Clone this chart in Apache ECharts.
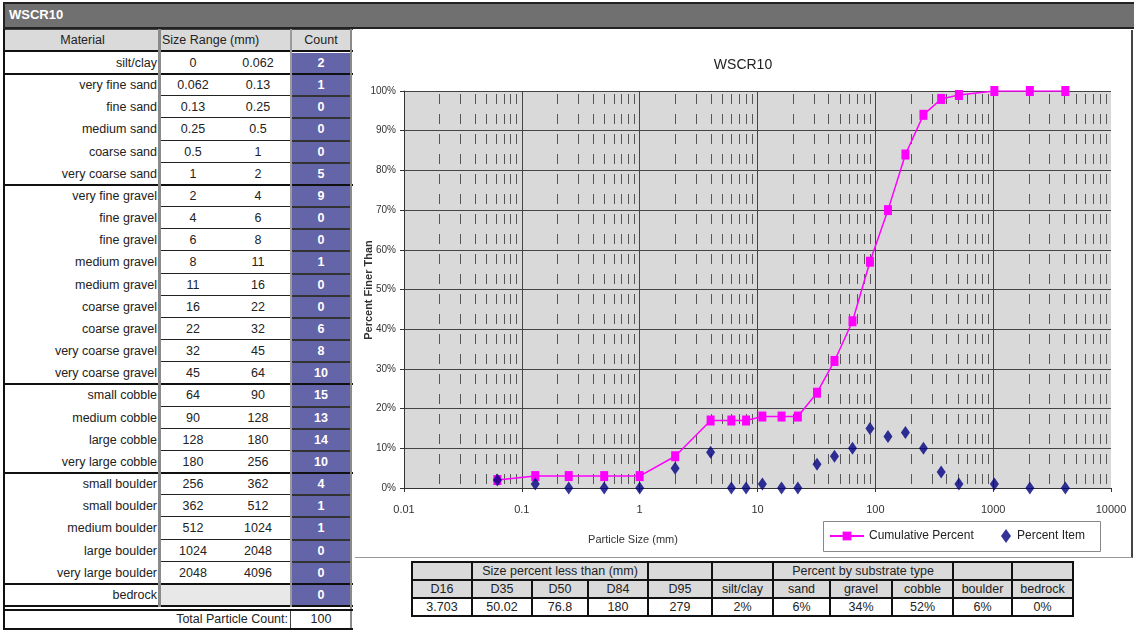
<!doctype html>
<html>
<head>
<meta charset="utf-8">
<title>WSCR10</title>
<script src="https://cdn.jsdelivr.net/npm/echarts@6/dist/echarts.min.js"></script>
<style>
  body { margin: 0; background: #fff; font-family: "Liberation Sans Narrow", "Arial Narrow", "Liberation Sans", Arial, sans-serif; }
  #page { position: relative; width: 1134px; height: 630px; overflow: hidden; background: #fff; }
  .c { position: absolute; box-sizing: border-box; font-size: 12.5px; line-height: 22px; color: #222; white-space: nowrap; overflow: hidden; }
  .ln { position: absolute; }
  #titlebar { position: absolute; left: 3px; top: 2px; width: 1131px; height: 27px; box-sizing: border-box;
    background: #707070; border-top: 2px solid #222; border-bottom: 2px solid #222; border-left: 2px solid #222;
    color: #fff; font: bold 13px "Liberation Sans", Arial, sans-serif; line-height: 22px; padding-left: 4px; }
  #chartbox { position: absolute; left: 355px; top: 30px; width: 778px; height: 528px; box-sizing: border-box;
    border-right: 2px solid #444; border-bottom: 1px solid #999; background: #fff; }
  #chart { width: 776px; height: 527px; }
  #btable { position: absolute; left: 411px; top: 561px; border-collapse: collapse; table-layout: fixed; }
  #btable td { border: 2px solid #111; height: 16px; padding: 0; text-align: center; font-size: 12.5px; color: #222; line-height: 16px; white-space: nowrap; }
  #btable tr.h td { background: #dadada; }
</style>
</head>
<body>
<div id="page">
  <div id="titlebar">WSCR10</div>
  <div id="chartbox"><div id="chart"></div></div>
  <table id="btable"></table>
</div>
<script type="text/javascript">
  // ---- data read from the sheet ----
  var materials = ['silt/clay', 'very fine sand', 'fine sand', 'medium sand', 'coarse sand', 'very coarse sand',
    'very fine gravel', 'fine gravel', 'fine gravel', 'medium gravel', 'medium gravel', 'coarse gravel', 'coarse gravel',
    'very coarse gravel', 'very coarse gravel', 'small cobble', 'medium cobble', 'large cobble', 'very large cobble',
    'small boulder', 'small boulder', 'medium boulder', 'large boulder', 'very large boulder', 'bedrock'];
  var sizeLow = ['0', '0.062', '0.13', '0.25', '0.5', '1', '2', '4', '6', '8', '11', '16', '22', '32', '45', '64', '90', '128', '180', '256', '362', '512', '1024', '2048', ''];
  var sizeHigh = ['0.062', '0.13', '0.25', '0.5', '1', '2', '4', '6', '8', '11', '16', '22', '32', '45', '64', '90', '128', '180', '256', '362', '512', '1024', '2048', '4096', ''];
  var counts = [2, 1, 0, 0, 0, 5, 9, 0, 0, 1, 0, 0, 6, 8, 10, 15, 13, 14, 10, 4, 1, 1, 0, 0, 0];
  var groupEnds = [0, 5, 14, 18, 23, 24]; // last row index of each substrate group
  var totalCount = 100;

  // chart points (upper size of each class)
  var particleSize = [0.062, 0.13, 0.25, 0.5, 1, 2, 4, 6, 8, 11, 16, 22, 32, 45, 64, 90, 128, 180, 256, 362, 512, 1024, 2048, 4096];
  var cumulativePercent = [2, 3, 3, 3, 3, 8, 17, 17, 17, 18, 18, 18, 24, 32, 42, 57, 70, 84, 94, 98, 99, 100, 100, 100];
  var percentItem = [2, 1, 0, 0, 0, 5, 9, 0, 0, 1, 0, 0, 6, 8, 10, 15, 13, 14, 10, 4, 1, 1, 0, 0];

  var dLabels = ['D16', 'D35', 'D50', 'D84', 'D95'];
  var dValues = ['3.703', '50.02', '76.8', '180', '279'];
  var substrateLabels = ['silt/clay', 'sand', 'gravel', 'cobble', 'boulder', 'bedrock'];
  var substratePercent = ['2%', '6%', '34%', '52%', '6%', '0%'];

  // ---- left table ----
  var page = document.getElementById('page');
  function cell(l, t, w, h, txt, css) {
    var d = document.createElement('div');
    d.className = 'c';
    d.style.left = l + 'px'; d.style.top = t + 'px'; d.style.width = w + 'px'; d.style.height = h + 'px';
    d.style.lineHeight = h + 'px';
    if (css) d.style.cssText += css;
    d.textContent = txt;
    page.appendChild(d);
    return d;
  }
  function line(l, t, w, h, color) {
    var d = document.createElement('div');
    d.className = 'ln';
    d.style.left = l + 'px'; d.style.top = t + 'px'; d.style.width = w + 'px'; d.style.height = h + 'px';
    d.style.background = color;
    page.appendChild(d);
  }

  // header
  cell(5, 30, 155, 21, 'Material', 'background:#dadada;text-align:center;');
  cell(160, 30, 131, 21, 'Size Range (mm)', 'background:#dadada;text-align:left;padding-left:2px;');
  cell(291, 30, 60, 21, 'Count', 'background:#dadada;text-align:center;');
  line(3, 29, 350, 1, '#444');
  line(3, 50, 350, 2, '#111');

  var rowTop = 52, rowH = 22.16;
  for (var i = 0; i < materials.length; i++) {
    var t = Math.round(rowTop + i * rowH);
    var h = Math.round(rowTop + (i + 1) * rowH) - t;
    cell(5, t, 153, h, materials[i], 'text-align:right;padding-right:1px;');
    if (i === materials.length - 1) {
      cell(161, t, 130, h, '', 'background:#e8e8e8;');
    } else {
      cell(161, t, 64, h, sizeLow[i], 'text-align:center;');
      cell(225, t, 66, h, sizeHigh[i], 'text-align:center;');
    }
    cell(292, t + 1, 58, h - 2, String(counts[i]), 'background:#6464a8;color:#fff;font-weight:bold;text-align:center;');
    line(161, t + h - 1, 130, 1, '#222');
    line(292, t + h - 1, 58, 2, '#333');
  }
  groupEnds.forEach(function(g) {
    var y = Math.round(rowTop + (g + 1) * rowH);
    line(3, y - 1, 350, 2, '#111');
  });
  line(3, 29, 2, 600, '#111');
  line(158, 29, 3, 578, '#8a8a8a');
  line(290, 29, 2, 578, '#9a9a9a');
  line(350, 29, 2, 600, '#8a8a8a');
  // total row
  line(3, 609, 350, 2, '#111');
  cell(5, 611, 284, 17, 'Total Particle Count:', 'text-align:right;padding-right:1px;');
  line(290, 611, 1, 17, '#444');
  cell(292, 611, 58, 17, String(totalCount), 'text-align:center;');
  line(3, 628, 350, 2, '#111');

  // ---- bottom table ----
  var bw = [60, 60, 56, 60, 64, 61, 57, 62, 61, 59, 61];
  var bt = document.getElementById('btable');
  var cg = '<colgroup>' + bw.map(function(w) { return '<col style="width:' + w + 'px">'; }).join('') + '</colgroup>';
  var r1 = '<tr class="h"><td></td><td colspan="3">Size percent less than (mm)</td><td></td><td></td>' +
    '<td colspan="3">Percent by substrate type</td><td></td><td></td></tr>';
  var r2 = '<tr class="h">' + dLabels.concat(substrateLabels).map(function(s) { return '<td>' + s + '</td>'; }).join('') + '</tr>';
  var r3 = '<tr>' + dValues.concat(substratePercent).map(function(s) { return '<td>' + s + '</td>'; }).join('') + '</tr>';
  bt.innerHTML = cg + r1 + r2 + r3;

  // ---- chart ----
  // minor grid positions 2..9 in every decade (log grid decoration)
  var minorGrid = [];
  [0.01, 0.1, 1, 10, 100, 1000].forEach(function(d) {
    for (var k = 2; k <= 9; k++) minorGrid.push([+(d * k).toPrecision(3), 0]);
  });

  var font = '"Liberation Sans", Arial, sans-serif';
  var legendText = { fontSize: 12, color: '#222', fontFamily: font };
  var option = {
    animation: false,
    textStyle: { fontFamily: font },
    title: [{
      text: 'WSCR10',
      left: 'center',
      top: 23,
      textStyle: { fontSize: 14, fontWeight: 'normal', color: '#222', fontFamily: font }
    }, {
      text: 'Particle Size (mm)',
      left: 273,
      top: 499,
      textAlign: 'center',
      textStyle: { fontSize: 11, fontWeight: 'normal', color: '#333', fontFamily: font }
    }],
    graphic: [{
      type: 'rect',
      left: 468,
      top: 491,
      z: 5,
      shape: { width: 277, height: 30 },
      style: { fill: '#fff', stroke: '#888', lineWidth: 1 }
    }, {
      // y axis title
      type: 'text',
      x: 14,
      y: 260,
      rotation: Math.PI / 2,
      z: 5,
      style: {
        text: 'Percent Finer Than',
        fill: '#333',
        font: 'bold 11px "Liberation Sans", Arial, sans-serif',
        align: 'center',
        verticalAlign: 'middle'
      }
    }],
    legend: [{
      data: ['Cumulative Percent'],
      left: 469,
      top: 491,
      padding: [9, 5],
      z: 10,
      itemWidth: 34,
      itemHeight: 11,
      textStyle: legendText
    }, {
      data: [{ name: 'Percent Item', icon: 'path://M5,0 L10,7 L5,14 L0,7 Z' }],
      left: 641,
      top: 491,
      padding: [8, 5],
      z: 10,
      itemWidth: 12,
      itemHeight: 14,
      textStyle: legendText
    }],
    grid: {
      left: 49,
      right: 20,
      top: 61,
      bottom: 69,
      outerBoundsMode: 'none',
      containLabel: false,
      show: true,
      backgroundColor: '#d9d9d9',
      borderWidth: 0
    },
    xAxis: {
      type: 'log',
      logBase: 10,
      min: 0.01,
      max: 10000,
      splitNumber: 6,
      axisLine: { show: true, lineStyle: { color: '#333', width: 1 } },
      axisTick: { show: true, length: 4, lineStyle: { color: '#333' } },
      axisLabel: {
        color: '#333',
        fontSize: 11,
        margin: 16,
        formatter: function(v) { return String(parseFloat(v.toPrecision(3))); }
      },
      splitLine: { show: true, lineStyle: { color: ['#444', '#444', '#444', '#444', '#444', '#444', 'rgba(0,0,0,0)'], width: 1 } }
    },
    yAxis: {
      type: 'value',
      min: 0,
      max: 100,
      interval: 10,
      axisLine: { show: true, lineStyle: { color: '#333', width: 1 } },
      axisTick: { show: true, length: 4, lineStyle: { color: '#333' } },
      axisLabel: { color: '#333', fontSize: 10, margin: 8, formatter: '{value}%' },
      splitLine: { show: true, lineStyle: { color: '#444', width: 1 } }
    },
    series: [{
      type: 'custom',
      silent: true,
      z: 1,
      data: minorGrid,
      encode: { x: 0, y: 1 },
      renderItem: function(params, api) {
        var top = api.coord([api.value(0), 100]);
        var bot = api.coord([api.value(0), 0]);
        var x = Math.round(top[0]) + 0.5;
        return {
          type: 'line',
          shape: { x1: x, y1: top[1], x2: x, y2: bot[1] },
          style: { stroke: '#555', lineWidth: 1, lineDash: [10, 10], lineDashOffset: 17 }
        };
      }
    }, {
      name: 'Cumulative Percent',
      type: 'line',
      z: 3,
      data: particleSize.map(function(x, i) { return [x, cumulativePercent[i]]; }),
      symbol: 'rect',
      symbolSize: [8, 10],
      itemStyle: { color: '#ff00ff' },
      lineStyle: { color: '#ff00ff', width: 1.5 }
    }, {
      name: 'Percent Item',
      type: 'scatter',
      z: 4,
      data: particleSize.map(function(x, i) { return [x, percentItem[i]]; }),
      symbol: 'diamond',
      symbolSize: [9, 13],
      itemStyle: { color: '#000080' }
    }]
  };
  var myChart = echarts.init(document.getElementById('chart'));
  myChart.setOption(option);
</script>
</body>
</html>
